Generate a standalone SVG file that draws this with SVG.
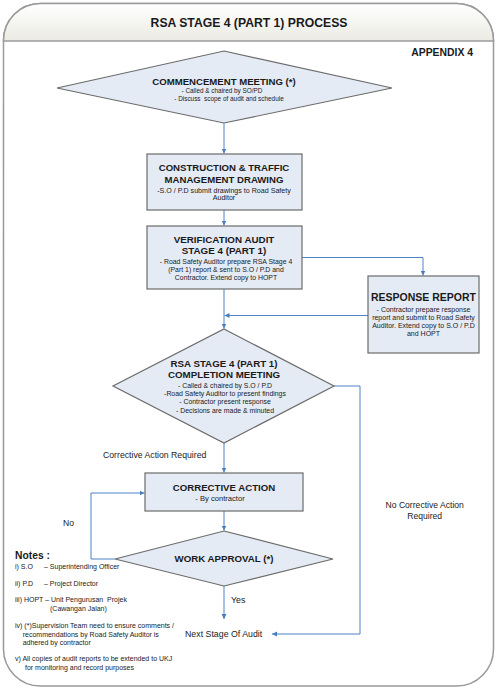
<svg xmlns="http://www.w3.org/2000/svg" width="500" height="691" viewBox="0 0 500 691">
<defs>
<linearGradient id="hdr" x1="0" y1="0" x2="0" y2="1">
<stop offset="0" stop-color="#ffffff"/>
<stop offset="1" stop-color="#ebebe3"/>
</linearGradient>
<marker id="ah" markerUnits="userSpaceOnUse" markerWidth="6" markerHeight="6" refX="5" refY="3" orient="auto">
<path d="M0,0.5 L5,3 L0,5.5 Z" fill="#4a7ebb"/>
</marker>
</defs>
<style>
text{font-family:"Liberation Sans",Arial,sans-serif;fill:#1a1a1a}
.b{font-weight:bold}
.shape{fill:#e5ebf5;stroke:#6b6b6b;stroke-width:1.2}
.c{fill:none;stroke:#4f81c7;stroke-width:1}
.m{text-anchor:middle}
.n{font-size:7px}
</style>
<g id="frame">
<rect x="3.5" y="3.5" width="490" height="682.5" rx="37" ry="37" fill="#ffffff" stroke="#9a9a9a" stroke-width="1.5"/>
<path d="M3.5,41 V40.5 A37,37 0 0 1 40.5,3.5 H456.5 A37,37 0 0 1 493.5,40.5 V41 Z" fill="url(#hdr)" stroke="#9a9a9a" stroke-width="1.5"/>
<text class="b m" x="249" y="26.5" font-size="12.2">RSA STAGE 4 (PART 1) PROCESS</text>
<text class="b" x="473" y="55.7" font-size="10.4" text-anchor="end">APPENDIX 4</text>
</g>
<g id="connectors">
<path class="c" d="M224,123 V153.5" marker-end="url(#ah)"/>
<path class="c" d="M224,210 V225.5" marker-end="url(#ah)"/>
<path class="c" d="M302,257.5 H423 V275.5" marker-end="url(#ah)"/>
<path class="c" d="M368,315.5 H224.5" marker-end="url(#ah)"/>
<path class="c" d="M224,289 V328.5" marker-end="url(#ah)"/>
<path class="c" d="M334,386 H360 V634 H272" marker-end="url(#ah)"/>
<path class="c" d="M224,443 V472.5" marker-end="url(#ah)"/>
<path class="c" d="M224,511 V530.5" marker-end="url(#ah)"/>
<path class="c" d="M115,559 H91 V493 H144.5" marker-end="url(#ah)"/>
<path class="c" d="M224,586 V619" marker-end="url(#ah)"/>
</g>
<g id="commencement">
<polygon class="shape" points="224,51 392,88 224,123 57,88"/>
<text class="b m" x="224" y="84.5" font-size="9.6">COMMENCEMENT MEETING (*)</text>
<text class="m" x="222" y="93" font-size="6.4">- Called &amp; chaired by SO/PD</text>
<text class="m" x="229" y="101.3" font-size="6.4" xml:space="preserve">- Discuss  scope of audit and schedule</text>
</g>
<g id="construction">
<rect class="shape" x="147" y="154" width="155" height="56"/>
<text class="b m" x="224" y="170.7" font-size="9.6">CONSTRUCTION &amp; TRAFFIC</text>
<text class="b m" x="224" y="182.5" font-size="9.6">MANAGEMENT DRAWING</text>
<text class="m" x="224" y="192.5" font-size="7.1">-S.O / P.D submit drawings to Road Safety</text>
<text class="m" x="224" y="200.2" font-size="7.1">Auditor</text>
</g>
<g id="verification">
<rect class="shape" x="147" y="226" width="155" height="63"/>
<text class="b m" x="224" y="243" font-size="9.8">VERIFICATION AUDIT</text>
<text class="b m" x="224" y="253.5" font-size="9.8">STAGE 4 (PART 1)</text>
<text class="m" x="226" y="263.5" font-size="6.9">- Road Safety Auditor prepare RSA Stage 4</text>
<text class="m" x="226" y="271.8" font-size="6.9">(Part 1) report &amp; sent to S.O / P.D and</text>
<text class="m" x="226" y="280" font-size="6.9">Contractor. Extend copy to HOPT</text>
</g>
<g id="response">
<rect class="shape" x="368" y="276" width="111" height="77"/>
<text class="b m" x="423.5" y="301" font-size="10.5">RESPONSE REPORT</text>
<text class="m" x="423.5" y="311.5" font-size="7">- Contractor prepare response</text>
<text class="m" x="423.5" y="319.5" font-size="7">report and submit to Road Safety</text>
<text class="m" x="423.5" y="327.6" font-size="7">Auditor. Extend copy to S.O / P.D</text>
<text class="m" x="423.5" y="335.8" font-size="7">and HOPT</text>
</g>
<g id="completion">
<polygon class="shape" points="224,329 334,386 224,443 113,386"/>
<text class="b m" x="224" y="366.8" font-size="9.75">RSA STAGE 4 (PART 1)</text>
<text class="b m" x="224" y="378" font-size="9.75">COMPLETION MEETING</text>
<text class="m" x="225" y="387.5" font-size="6.9">- Called &amp; chaired by S.O / P.D</text>
<text class="m" x="225" y="395.8" font-size="6.9">-Road Safety Auditor to present findings</text>
<text class="m" x="225" y="404.2" font-size="6.9">- Contractor present response</text>
<text class="m" x="225" y="412.5" font-size="6.9">- Decisions are made &amp; minuted</text>
</g>
<g id="labels">
<text x="103" y="458" font-size="8.7">Corrective Action Required</text>
<text x="63" y="525.8" font-size="8.6">No</text>
<text class="m" x="424.7" y="508" font-size="8.6">No Corrective Action</text>
<text class="m" x="424.7" y="519.2" font-size="8.6">Required</text>
<text x="231" y="603" font-size="8.8">Yes</text>
</g>
<g id="corrective">
<rect class="shape" x="145" y="473" width="158" height="38"/>
<text class="b m" x="224" y="490.8" font-size="9.65">CORRECTIVE ACTION</text>
<text class="m" x="220" y="500.8" font-size="7.6">- By contractor</text>
</g>
<g id="approval">
<polygon class="shape" points="224,531 333,559 224,586 115,559"/>
<text class="b m" x="224" y="561.8" font-size="9.7">WORK APPROVAL (*)</text>
</g>
<g id="next">
<text x="185" y="637" font-size="8.8">Next Stage Of Audit</text>
</g>
<g id="notes">
<text class="b" x="15" y="558.7" font-size="10.3">Notes :</text>
<text class="n" x="15" y="569">i) S.O<tspan x="44">– Superintending Officer</tspan></text>
<text class="n" x="15" y="585.6">ii) P.D<tspan x="44">– Project Director</tspan></text>
<text class="n" x="15" y="602.3" xml:space="preserve">iii) HOPT – Unit Pengurusan  Projek</text>
<text class="n" x="50" y="611.3">(Cawangan Jalan)</text>
<text class="n" x="15" y="627.6">iv) (*)Supervision Team need to ensure comments /</text>
<text class="n" x="22.7" y="636.6">recommendations by Road Safety Auditor is</text>
<text class="n" x="22.7" y="644.6">adhered by contractor</text>
<text class="n" x="15" y="661.3">v) All copies of audit reports to be extended to UKJ</text>
<text class="n" x="25" y="670">for monitoring and record purposes</text>
</g>
</svg>
